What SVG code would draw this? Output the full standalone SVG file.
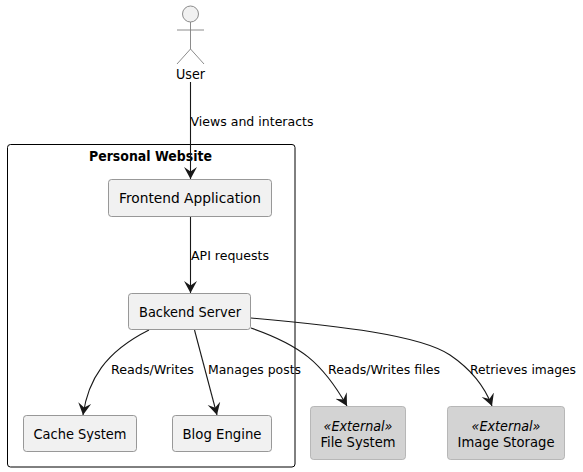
<svg xmlns="http://www.w3.org/2000/svg" width="583" height="472" viewBox="0 0 583 472">
<style>
text{font-family:"DejaVu Sans",Verdana,sans-serif;fill:#000}
.n{font-size:14.5px;text-anchor:middle}
.l{font-size:13px}
.s{font-size:14.5px;font-style:italic;text-anchor:middle}
.box{fill:#f1f1f1;stroke:#7f7f7f;stroke-width:.8}
.ext{fill:#d3d3d3;stroke:#a9a9a9;stroke-width:.8}
.c{fill:none;stroke:#181818;stroke-width:1.1}
.a{fill:none;stroke:#7f7f7f;stroke-width:.9}
</style>
<defs><marker id="arr" markerUnits="userSpaceOnUse" markerWidth="15" markerHeight="14" refX="12" refY="6.5" orient="auto" viewBox="0 0 15 13"><path d="M0,0 L12,6.5 L0,13 L4.5,6.5 Z" fill="#181818"/></marker></defs>
<rect id="package" x="7.5" y="144.5" width="287.5" height="322.5" rx="3" fill="#fff" stroke="#000" stroke-width="1"/>
<text x="150.5" y="161" font-size="14" font-weight="bold" text-anchor="middle" textLength="123" lengthAdjust="spacingAndGlyphs">Personal Website</text>
<g id="connectors">
<path class="c" marker-end="url(#arr)" d="M190.5,82 V179"/>
<path class="c" marker-end="url(#arr)" d="M190.5,217 V293"/>
<path class="c" marker-end="url(#arr)" d="M149,330 C105,352 88,380 83,415"/>
<path class="c" marker-end="url(#arr)" d="M194.5,330 L217,415"/>
<path class="c" marker-end="url(#arr)" d="M251,328 C300,345 322,362 347,406"/>
<path class="c" marker-end="url(#arr)" d="M251,318 C340,326 420,335 450,355 C475,372 486,390 492,406"/>
<text class="l" x="190.5" y="126" textLength="123" lengthAdjust="spacingAndGlyphs">Views and interacts</text>
<text class="l" x="191" y="260" textLength="78" lengthAdjust="spacingAndGlyphs">API requests</text>
<text class="l" x="111" y="374" textLength="83" lengthAdjust="spacingAndGlyphs">Reads/Writes</text>
<text class="l" x="208" y="374" textLength="93" lengthAdjust="spacingAndGlyphs">Manages posts</text>
<text class="l" x="328" y="374" textLength="112" lengthAdjust="spacingAndGlyphs">Reads/Writes files</text>
<text class="l" x="470" y="374" textLength="106" lengthAdjust="spacingAndGlyphs">Retrieves images</text>
</g>
<g id="user">
<circle cx="190.5" cy="14" r="8" fill="#f1f1f1" stroke="#7f7f7f" stroke-width=".9"/>
<path class="a" d="M190.5,22 V49 M177,30 H204 M190.5,49 L177,64 M190.5,49 L204,64"/>
<text class="n" x="190.5" y="79" textLength="29" lengthAdjust="spacingAndGlyphs">User</text>
</g>
<g id="frontend"><rect class="box" x="108.5" y="179.5" width="163" height="37" rx="3"/><text class="n" x="190" y="203" textLength="142" lengthAdjust="spacingAndGlyphs">Frontend Application</text></g>
<g id="backend"><rect class="box" x="128.5" y="293.5" width="122" height="36" rx="3"/><text class="n" x="190" y="317" textLength="102" lengthAdjust="spacingAndGlyphs">Backend Server</text></g>
<g id="cache"><rect class="box" x="23.5" y="415.5" width="113" height="36" rx="3"/><text class="n" x="80" y="439" textLength="93" lengthAdjust="spacingAndGlyphs">Cache System</text></g>
<g id="blog"><rect class="box" x="172.5" y="415.5" width="99" height="36" rx="3"/><text class="n" x="222" y="439" textLength="79" lengthAdjust="spacingAndGlyphs">Blog Engine</text></g>
<g id="file"><rect class="ext" x="310.5" y="406.5" width="95" height="53" rx="3"/><text class="s" x="358" y="431" textLength="69" lengthAdjust="spacingAndGlyphs">«External»</text><text class="n" x="358" y="447" textLength="75" lengthAdjust="spacingAndGlyphs">File System</text></g>
<g id="image"><rect class="ext" x="447.5" y="406.5" width="117" height="53" rx="3"/><text class="s" x="506" y="431" textLength="69" lengthAdjust="spacingAndGlyphs">«External»</text><text class="n" x="506" y="447" textLength="97" lengthAdjust="spacingAndGlyphs">Image Storage</text></g>
</svg>
